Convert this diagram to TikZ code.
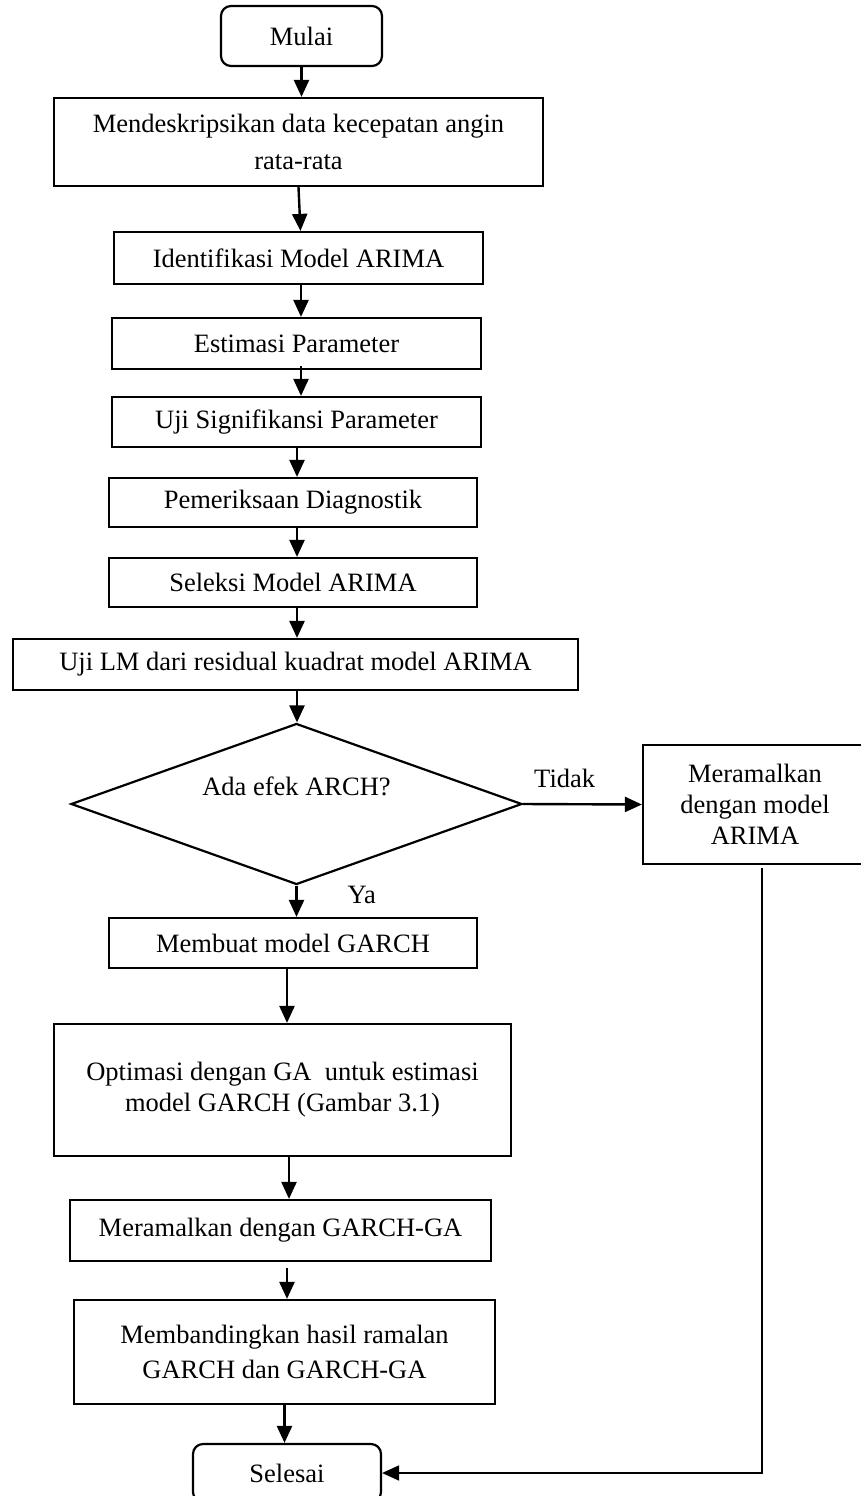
\documentclass[tikz,border=0pt]{standalone}
\usepackage{fontspec}
\setmainfont{Liberation Serif}
\usetikzlibrary{shapes.geometric}
\usetikzlibrary{arrows.meta}

\begin{document}
\begin{tikzpicture}[x=1pt, y=-1pt,
      every node/.style={align=center, font=\fontsize{26.5}{31}\selectfont},
      proses/.style={draw, rectangle, line width=2.2pt, inner sep=0pt},
      terminal/.style={draw, rectangle, rounded corners=10pt, line width=2.2pt, inner sep=0pt},
      keputusan/.style={draw, diamond, aspect=2.8, line width=2.2pt, inner sep=0pt,
        minimum width=451pt, minimum height=161pt, text height=20pt, text depth=38pt},
      panah/.style={line width=2.4pt, -{Triangle[length=17pt,width=15pt]}}]
    \useasboundingbox (0,0) rectangle (860,1496);

    \node[terminal, minimum width=161pt, minimum height=60pt] (mulai) at (301.5,36) {Mulai};
    \node[proses, minimum width=489pt, minimum height=88pt] (deskripsi) at (298.5,142)
      {Mendeskripsikan data kecepatan angin\\[6pt]rata-rata};
    \node[proses, minimum width=369pt, minimum height=52pt] (identifikasi) at (298.5,258) {Identifikasi Model ARIMA};
    \node[proses, minimum width=369pt, minimum height=51pt] (estimasi) at (296.5,343.5) {Estimasi Parameter};
    \node[proses, minimum width=369pt, minimum height=50pt] (signifikansi) at (296.5,422) {Uji Signifikansi Parameter};
    \node[proses, minimum width=368pt, minimum height=49pt] (diagnostik) at (293,502.5) {Pemeriksaan Diagnostik};
    \node[proses, minimum width=368pt, minimum height=49pt] (seleksi) at (293,582.5) {Seleksi Model ARIMA};
    \node[proses, minimum width=565pt, minimum height=51pt] (ujilm) at (295.5,664.5) {Uji LM dari residual kuadrat model ARIMA};
    \node[keputusan] (arch) at (296.5,804) {Ada efek ARCH?};
    \node[proses, minimum width=224pt, minimum height=119pt] (ramalarima) at (755,804.5) {Meramalkan\\dengan model\\ARIMA};
    \node[proses, minimum width=368pt, minimum height=50pt] (garch) at (293,943) {Membuat model GARCH};
    \node[proses, minimum width=457pt, minimum height=132pt] (optimasi) at (282.5,1090)
      {Optimasi dengan GA\ \ untuk estimasi\\model GARCH (Gambar 3.1)};
    \node[proses, minimum width=421pt, minimum height=61pt] (ramalga) at (280.5,1230.5) {Meramalkan dengan GARCH-GA};
    \node[proses, minimum width=421pt, minimum height=104pt] (banding) at (284.5,1352)
      {Membandingkan hasil ramalan\\[4pt]GARCH dan GARCH-GA};
    \node[terminal, minimum width=188pt, minimum height=58pt] (selesai) at (287,1473) {Selesai};

    % alur utama
    \draw[panah] (mulai.south) -- (mulai.south |- deskripsi.north);
    \draw[panah] (deskripsi.south) -- ([xshift=2pt]deskripsi.south |- identifikasi.north);
    \draw[panah] ([xshift=2.5pt]identifikasi.south) -- ([xshift=2.5pt]identifikasi.south |- estimasi.north);
    \draw[panah] ([xshift=4.5pt,yshift=4pt]estimasi.south) -- ([xshift=4.5pt]estimasi.south |- signifikansi.north);
    \draw[panah] ([xshift=0.5pt]signifikansi.south) -- ([xshift=0.5pt]signifikansi.south |- diagnostik.north);
    \draw[panah] ([xshift=4pt]diagnostik.south) -- ([xshift=4pt]diagnostik.south |- seleksi.north);
    \draw[panah] ([xshift=4pt]seleksi.south) -- ([xshift=4pt]seleksi.south |- ujilm.north);
    \draw[panah] ([xshift=1.5pt]ujilm.south) -- ([xshift=1.5pt]ujilm.south |- arch.north);
    \draw[panah] (arch.south) -- node[right=50pt, pos=0.3, inner sep=0pt] {Ya} (arch.south |- garch.north);
    \draw[panah] (arch.east) -- node[above=15pt, pos=0.35, inner sep=0pt] {Tidak} (ramalarima.west);
    \draw[panah] ([xshift=-6pt]garch.south) -- ([xshift=-6pt]garch.south |- optimasi.north);
    \draw[panah] ([xshift=6.5pt]optimasi.south) -- ([xshift=6.5pt]optimasi.south |- ramalga.north);
    \draw[panah] ([xshift=6.5pt,yshift=-6pt]ramalga.south) -- ([xshift=6.5pt]ramalga.south |- banding.north);
    \draw[panah] (banding.south) -- (banding.south |- selesai.north);

    % jalur ARIMA ke selesai
    \draw[line width=1.8pt, -{Triangle[length=17pt,width=15pt]}]
      ([xshift=7pt,yshift=-3pt]ramalarima.south) |- (selesai.east);
\end{tikzpicture}
\end{document}
